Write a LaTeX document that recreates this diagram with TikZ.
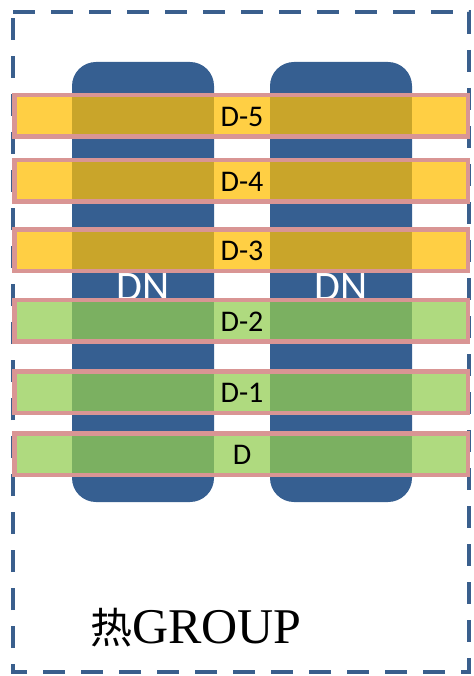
\documentclass[tikz,border=0pt]{standalone}
\usepackage{fontspec}
\setmainfont{Liberation Serif}
\newfontfamily\labelfont{Carlito}
\newfontfamily\cjkfont{Noto Sans CJK SC}
\definecolor{dnblue}{HTML}{365F91}
\definecolor{frameblue}{HTML}{3A5F8D}
\definecolor{warmfill}{HTML}{FFCF44}
\definecolor{warmdeep}{HTML}{C9A52A}
\definecolor{coolfill}{HTML}{AFDA7F}
\definecolor{cooldeep}{HTML}{7BB061}
\definecolor{bandedge}{HTML}{D99594}
\begin{document}
\begin{tikzpicture}[x=1pt,y=-1pt,
  column/.style={fill=dnblue,rounded corners=24pt},
  dnlabel/.style={text=white,font=\labelfont\fontsize{42}{42}\selectfont,anchor=base,inner sep=0pt},
  bandlabel/.style={text=black,font=\labelfont\fontsize{30}{30}\selectfont,anchor=base,inner sep=0pt},
  bandedgeline/.style={draw=bandedge,line width=4.5pt},
  groupframe/.style={draw=frameblue,line width=4pt,dash pattern=on 22pt off 16pt}
]
\useasboundingbox (0,0) rectangle (473,676);

% outer dashed group frame
\draw[groupframe] (13,12) -- (469,12) -- (469,672) -- (13,672) -- cycle;

% the two DN columns
\fill[column] (72,62) rectangle (214,502);
\fill[column] (270,62) rectangle (412,502);
\node[dnlabel] (dnL) at (143,300) {DN};
\node[dnlabel] (dnR) at (341,300) {DN};

% horizontal bands: name / centre y / light colour / deep colour / label
\foreach \nm/\cy/\lt/\dk/\txt in {
  b5/116/warmfill/warmdeep/D-5,
  b4/181/warmfill/warmdeep/D-4,
  b3/250/warmfill/warmdeep/D-3,
  b2/320.5/coolfill/cooldeep/D-2,
  b1/392/coolfill/cooldeep/D-1,
  b0/454/coolfill/cooldeep/D}{
  \fill[\lt] (14.5,\cy-20.75) rectangle (468,\cy+20.75);
  \fill[\dk] (72,\cy-20.75) rectangle (214,\cy+20.75);
  \fill[\dk] (270,\cy-20.75) rectangle (412,\cy+20.75);
  \draw[bandedgeline] (14.5,\cy-20.75) rectangle (468,\cy+20.75);
  \node[bandlabel] (\nm) at (242,\cy+10.5) {\txt};
}

% group caption
\node[anchor=base west,inner sep=0pt] (caption) at (90,643)
  {{\cjkfont\fontsize{42}{42}\selectfont 热}{\fontsize{50}{50}\selectfont GROUP}};
\end{tikzpicture}
\end{document}
